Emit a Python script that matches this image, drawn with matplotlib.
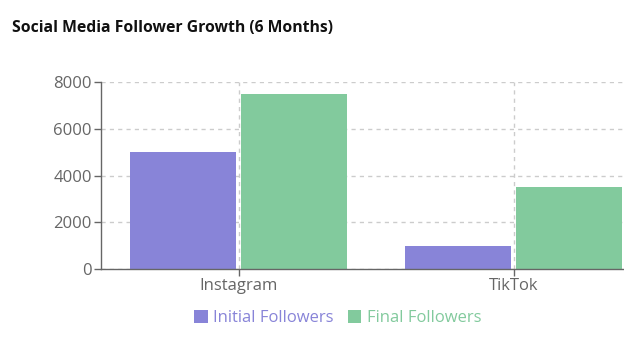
import matplotlib.pyplot as plt
import numpy as np

platforms = ["Instagram", "TikTok"]
initial_followers = [5000, 1000]
final_followers = [7500, 3500]
y_ticks = [0, 2000, 4000, 6000, 8000]

plt.rcParams["font.family"] = ["Open Sans", "DejaVu Sans"]

color_initial = "#8884d8"
color_final = "#82ca9d"
axis_color = "#666666"

fig = plt.figure(figsize=(6.24, 3.59), dpi=100)
# plot area runs past the right edge of the picture, as in the original
ax = fig.add_axes([101 / 624, 90 / 359, 550 / 624, 187 / 359])

x = np.arange(len(platforms))
width = 0.385
offset = 0.2025
ax.bar(x - offset, initial_followers, width, color=color_initial, label="Initial Followers")
ax.bar(x + offset, final_followers, width, color=color_final, label="Final Followers")

ax.set_xlim(-0.5, len(platforms) - 0.5)
ax.set_ylim(0, 8000)
ax.set_xticks(x)
ax.set_xticklabels(platforms)
ax.set_yticks(y_ticks)

ax.grid(True, color="#cccccc", linestyle=(0, (3, 3)), linewidth=1)
ax.set_axisbelow(True)
for side in ("top", "right"):
    ax.spines[side].set_visible(False)
for side in ("left", "bottom"):
    ax.spines[side].set_color(axis_color)
    ax.spines[side].set_linewidth(1)
ax.tick_params(colors=axis_color, labelcolor=axis_color, labelsize=12, length=5, width=1, pad=1.5)

fig.text(12 / 624, 1 - 28 / 359, "Social Media Follower Growth (6 Months)",
         fontsize=11.3, fontweight="bold", color="#111111", va="center", ha="left")

fig.legend(loc="center", bbox_to_anchor=(338 / 624, 1 - 318 / 359), ncol=2, frameon=False,
           fontsize=12, handlelength=0.8, handleheight=0.8, handletextpad=0.35,
           columnspacing=0.85, labelcolor=[color_initial, color_final])

fig.savefig("out.png", dpi=100)
